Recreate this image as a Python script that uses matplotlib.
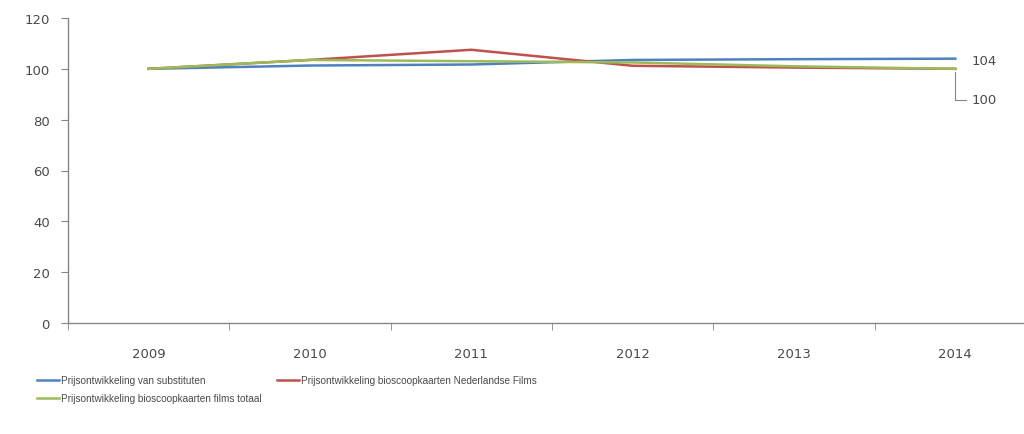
# -*- coding: utf-8 -*-
"""
Prijsontwikkeling bioscoopkaarten vs substituten, index 2009 = 100
"""

# %% Import packages

import matplotlib
matplotlib.use('Agg')
import matplotlib.pyplot as plt

# %% Data

years = ['2009', '2010', '2011', '2012', '2013', '2014']
substituten = [100, 101.3, 101.7, 103.5, 103.8, 104]
nederlandseFilms = [100, 103.5, 107.5, 101.2, 100.5, 100]
filmsTotaal = [100, 103.5, 103, 102.5, 101, 100]

seriesNames = ['Prijsontwikkeling van substituten',
               'Prijsontwikkeling bioscoopkaarten Nederlandse Films',
               'Prijsontwikkeling bioscoopkaarten films totaal']
yTicks = [0, 20, 40, 60, 80, 100, 120]

# %% Plot

textGrey = '#4a4a4a'
axisGrey = '#868686'
legendFont = {'family': ['Liberation Sans', 'DejaVu Sans'], 'size': 7.2}

fig = plt.figure(figsize = (10.24, 4.35), dpi = 100)
ax = fig.add_axes([68/1024, 111/435, 968/1024, 305/435])

xPos = list(range(len(years)))

lineBlue, = ax.plot(xPos, substituten, color = '#4F81BD', lw = 1.8)
lineRed, = ax.plot(xPos, nederlandseFilms, color = '#C0504D', lw = 1.8)
lineGreen, = ax.plot(xPos, filmsTotaal, color = '#9BBB59', lw = 1.8)

#Axis limits and ticks
ax.set_xlim(-0.5, len(years) - 0.5)
ax.set_ylim(0, 120)
ax.set_yticks(yTicks)
ax.set_yticklabels([str(t) for t in yTicks])
ax.set_xticks(xPos)
ax.set_xticklabels(years)
ax.set_xticks([x - 0.5 for x in range(len(years) + 1)], minor = True)

ax.tick_params(axis = 'x', which = 'major', length = 0, pad = 17,
               labelsize = 9.5, labelcolor = textGrey)
ax.tick_params(axis = 'x', which = 'minor', length = 5, color = axisGrey,
               direction = 'out')
ax.tick_params(axis = 'y', length = 5, color = axisGrey, pad = 8,
               labelsize = 9.5, labelcolor = textGrey)

for side in ['top', 'right']:
    ax.spines[side].set_visible(False)
for side in ['left', 'bottom']:
    ax.spines[side].set_color(axisGrey)
    ax.spines[side].set_linewidth(1)

#End value labels
ax.annotate(f'{substituten[-1]:.0f}', xy = (xPos[-1], substituten[-1]),
            xytext = (16, -2), textcoords = 'offset pixels',
            ha = 'left', va = 'center', fontsize = 9.5, color = textGrey)
ax.annotate(f'{filmsTotaal[-1]:.0f}', xy = (xPos[-1], filmsTotaal[-1]),
            xytext = (16, -31), textcoords = 'offset pixels',
            ha = 'left', va = 'center', fontsize = 9.5, color = textGrey,
            arrowprops = dict(arrowstyle = '-', color = axisGrey, lw = 0.8,
                              connectionstyle = 'angle,angleA=0,angleB=90,rad=0',
                              shrinkA = 2, shrinkB = 2))

#Legend below the chart (left column and right column)
fig.legend([lineBlue, lineGreen], [seriesNames[0], seriesNames[2]],
           loc = 'upper left', bbox_to_anchor = (28/1024, 1 - 367/435),
           frameon = False, handlelength = 2.2, handletextpad = 0.2,
           labelspacing = 0.8, prop = legendFont, labelcolor = textGrey)
fig.legend([lineRed], [seriesNames[1]],
           loc = 'upper left', bbox_to_anchor = (268/1024, 1 - 367/435),
           frameon = False, handlelength = 2.2, handletextpad = 0.2,
           prop = legendFont, labelcolor = textGrey)

plt.savefig('out.png', dpi = 100)
plt.close()
